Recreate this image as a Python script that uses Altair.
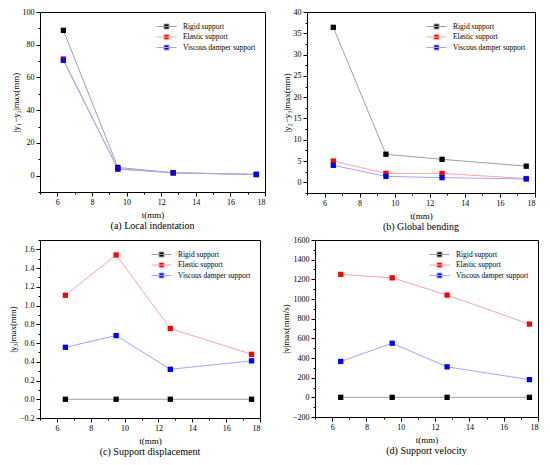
import altair as alt
import pandas as pd

FONT = "Liberation Serif"

series = ["Rigid support", "Elastic support", "Viscous damper support"]
line_colors = ["#a0a0a0", "#ffa4a4", "#a4a4ff"]
marker_colors = ["#000000", "#ff0000", "#0000ff"]

# thickness t (mm)
t_a = [6.35, 9.5, 12.7, 17.5]
t_other = [6.5, 9.5, 12.7, 17.5]

# (a) Local indentation |y1-y2|max (mm)
a_rigid = [88.8, 5.0, 1.8, 0.8]
a_elastic = [71.3, 4.2, 1.7, 0.6]
a_viscous = [70.5, 4.0, 1.7, 0.7]

# (b) Global bending |y2-y3|max (mm)
b_rigid = [36.4, 6.6, 5.4, 3.8]
b_elastic = [5.0, 2.1, 2.1, 0.9]
b_viscous = [4.0, 1.4, 1.1, 0.8]

# (c) Support displacement |y3|max (mm)
c_rigid = [0.0, 0.0, 0.0, 0.0]
c_elastic = [1.11, 1.54, 0.755, 0.48]
c_viscous = [0.555, 0.68, 0.32, 0.41]

# (d) Support velocity |v|max (mm/s)
d_rigid = [0, 0, 0, 0]
d_elastic = [1250, 1215, 1040, 745]
d_viscous = [365, 550, 310, 180]

x_ticks = [5, 6, 7, 8, 9, 10, 11, 12, 13, 14, 15, 16, 17, 18]

LEGEND_PATH = "M-2,0L2,0M-0.5,-0.5L0.5,-0.5L0.5,0.5L-0.5,0.5Z"


def ticks(lo, hi, step):
    n = int(round((hi - lo) / step))
    return [round(lo + i * step, 6) for i in range(n + 1)]


def major_test(major):
    return f"abs(datum.value / {major} - round(datum.value / {major})) < 0.001"


def panel(t, rigid, elastic, viscous, ytitle, ydom, ystep, ymajor, yfmt, title, w, h):
    rows = []
    for name, vals in zip(series, [rigid, elastic, viscous]):
        for x, v in zip(t, vals):
            rows.append({"t": x, "value": v, "series": name})
    df = pd.DataFrame(rows)

    xaxis = alt.Axis(
        orient="bottom",
        values=x_ticks,
        labelExpr=f"{major_test(2)} ? datum.label : ''",
        tickSize={"condition": {"test": major_test(2), "value": 4}, "value": 2},
        title="t(mm)",
        titlePadding=4,
        titleFont=FONT,
        titleFontSize=9,
        titleFontWeight="normal",
    )
    yaxis = alt.Axis(
        orient="left",
        values=ticks(ydom[0], ydom[1], ystep),
        labelExpr=f"{major_test(ymajor)} ? datum.label : ''",
        tickSize={"condition": {"test": major_test(ymajor), "value": 4}, "value": 2},
        format=yfmt,
        title=ytitle,
        titlePadding=2,
        titleFont=FONT,
        titleFontSize=9,
        titleFontWeight="normal",
    )
    xs = alt.Scale(domain=[5, 18], nice=False, zero=False)
    ys = alt.Scale(domain=ydom, nice=False, zero=False)

    leg = alt.Legend(
        title=None,
        orient="top-right",
        offset=9,
        symbolType=LEGEND_PATH,
        symbolSize=100,
        symbolStrokeWidth=1,
        labelOffset=11,
        rowPadding=0.5,
        padding=0,
        labelFont=FONT,
        labelFontSize=7.5,
        labelColor="black",
    )

    lines = alt.Chart(df).mark_line(strokeWidth=1).encode(
        x=alt.X("t:Q", scale=xs, axis=xaxis),
        y=alt.Y("value:Q", scale=ys, axis=yaxis),
        stroke=alt.Stroke("series:N", scale=alt.Scale(domain=series, range=line_colors), legend=leg),
        detail="series:N",
    )
    points = alt.Chart(df).mark_point(shape="square", filled=True, size=28, opacity=1).encode(
        x=alt.X("t:Q", scale=xs, axis=None),
        y=alt.Y("value:Q", scale=ys, axis=None),
        fill=alt.Fill("series:N", scale=alt.Scale(domain=series, range=marker_colors), legend=leg),
    )
    # frame: plain top and right axis lines
    frame = alt.Chart(df).mark_point(opacity=0).encode(
        x=alt.X("t:Q", scale=xs, axis=alt.Axis(orient="top", labels=False, ticks=False, title=None, domain=True)),
        y=alt.Y("value:Q", scale=ys, axis=alt.Axis(orient="right", labels=False, ticks=False, title=None, domain=True)),
    )
    return alt.layer(lines, points, frame).resolve_axis(
        x="independent", y="independent"
    ).properties(
        width=w,
        height=h,
        title=alt.TitleParams(
            text=title,
            orient="bottom",
            font=FONT,
            fontSize=10,
            fontWeight="normal",
            color="black",
            offset=2,
        ),
    )


pa = panel(t_a, a_rigid, a_elastic, a_viscous, "|y\u2081\u2212y\u2082|max(mm)",
           [-10, 100], 10, 20, "d", "(a) Local indentation", 225, 180)
pb = panel(t_other, b_rigid, b_elastic, b_viscous, "|y\u2082\u2212y\u2083|max(mm)",
           [-2.5, 40], 2.5, 5, "~g", "(b) Global bending", 228, 181)
pc = panel(t_other, c_rigid, c_elastic, c_viscous, "|y\u2083|max(mm)",
           [-0.2, 1.7], 0.1, 0.2, ".1f", "(c) Support displacement", 220, 178)
pd_ = panel(t_other, d_rigid, d_elastic, d_viscous, "|v|max(mm/s)",
            [-200, 1600], 100, 200, "d", "(d) Support velocity", 223, 177)


def row(left, right, sp):
    return alt.hconcat(left, right, spacing=sp).resolve_scale(
        fill="independent", stroke="independent"
    ).resolve_legend(fill="independent", stroke="independent")


chart = alt.vconcat(
    row(pa, pb, 16),
    row(pc, pd_, 20),
    spacing=4,
).resolve_scale(
    fill="independent", stroke="independent"
).resolve_legend(
    fill="independent", stroke="independent"
).properties(padding=0, background="white").configure_view(
    stroke=None
).configure_axis(
    grid=False,
    domainColor="black",
    tickColor="black",
    labelColor="black",
    titleColor="black",
    labelFont=FONT,
    labelFontSize=8,
    titleFont=FONT,
    titleFontSize=9,
    titleFontWeight="normal",
    labelPadding=2,
    domainWidth=1,
    tickWidth=1,
)

chart.save("out.html", embed_options={"renderer": "svg", "actions": False})
